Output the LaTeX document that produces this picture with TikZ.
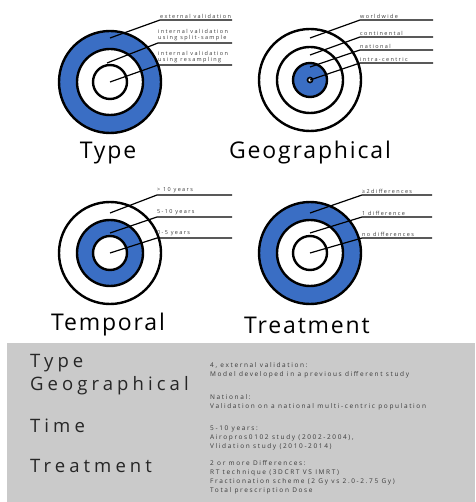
\documentclass[tikz,border=0pt]{standalone}
\usepackage{fontspec}
\usetikzlibrary{positioning,calc}
\newfontfamily\ttlfont[LetterSpace=8]{Open Sans}
\newfontfamily\keyfont[LetterSpace=22]{Open Sans}
\newfontfamily\smallfont[LetterSpace=25]{Open Sans}
\definecolor{ringblue}{HTML}{3A6EC4}
\definecolor{panelgray}{HTML}{CACACA}
\definecolor{inkgray}{HTML}{3A3A3A}

\begin{document}
\begin{tikzpicture}[x=1pt,y=-1pt,
  ring/.style={circle,draw=black,line width=2.4pt,inner sep=0pt,fill=white},
  blue ring/.style={ring,fill=ringblue},
  lbl/.style={anchor=south west,inner xsep=0pt,inner ysep=1.5pt,align=left,
    font=\fontsize{5.5}{6.5}\smallfont,text=inkgray},
  leader/.style={line width=1.2pt,black},
  ttl/.style={font=\fontsize{23}{27}\ttlfont},
  key/.style={anchor=base west,inner sep=0pt,font=\fontsize{18.5}{22}\keyfont,text=black!85},
  note/.style={anchor=base west,inner sep=0pt,align=left,
    font=\fontsize{6.5}{9}\smallfont,text=inkgray}]
\useasboundingbox (0,0) rectangle (475,502);

% Type
\node[blue ring,minimum size=102pt] (typeO) at (110,82) {};
\node[ring,minimum size=66pt] (typeM) at (110,82) {};
\node[ring,minimum size=34pt] (typeI) at (110,82) {};
\coordinate (typeP1) at (110,38);
\coordinate (typeP2) at (107,63);
\coordinate (typeP3) at (110,82);
\node[lbl] (typeL1) at (160,20) {external validation};
\node[lbl] (typeL2) at (158,43) {internal validation\\using split-sample};
\node[lbl] (typeL3) at (158,65) {internal validation\\using resampling};
\coordinate (typeU1) at (232,20);
\coordinate (typeU2) at (232,43);
\coordinate (typeU3) at (232,65);
\draw[leader] (typeP1) -- (typeL1.south west) -- (typeU1);
\draw[leader] (typeP2) -- (typeL2.south west) -- (typeU2);
\draw[leader] (typeP3) -- (typeL3.south west) -- (typeU3);
\node[ttl] (typeT) at (108,153) {Type};

% Geographical
\node[ring,minimum size=102pt] (geoO) at (310,80) {};
\node[ring,minimum size=66pt] (geoM) at (310,80) {};
\node[blue ring,minimum size=34pt] (geoI) at (310,80) {};
\node[ring,line width=1.6pt,minimum size=5pt] (geoC) at (310,80) {};
\coordinate (geoP1) at (310,38);
\coordinate (geoP2) at (310,55);
\coordinate (geoP3) at (310,67);
\coordinate (geoP4) at (310,80);
\node[lbl] (geoL1) at (360,20) {worldwide};
\node[lbl] (geoL2) at (360,37) {continental};
\node[lbl] (geoL3) at (360,50) {national};
\node[lbl] (geoL4) at (360,63) {intra-centric};
\coordinate (geoU1) at (433,20);
\coordinate (geoU2) at (433,37);
\coordinate (geoU3) at (433,50);
\coordinate (geoU4) at (433,63);
\draw[leader] (geoP1) -- (geoL1.south west) -- (geoU1);
\draw[leader] (geoP2) -- (geoL2.south west) -- (geoU2);
\draw[leader] (geoP3) -- (geoL3.south west) -- (geoU3);
\draw[leader] (geoP4) -- (geoL4.south west) -- (geoU4);
\node[ttl] (geoT) at (310,153) {Geographical};

% Temporal
\node[ring,minimum size=102pt] (tempO) at (110,253) {};
\node[blue ring,minimum size=66pt] (tempM) at (110,253) {};
\node[ring,minimum size=34pt] (tempI) at (110,253) {};
\coordinate (tempP1) at (110,213);
\coordinate (tempP2) at (110,233);
\coordinate (tempP3) at (110,253);
\node[lbl] (tempL1) at (157,195) {> 10 years};
\node[lbl] (tempL2) at (157,217) {5-10 years};
\node[lbl] (tempL3) at (157,238) {0-5 years};
\coordinate (tempU1) at (232,195);
\coordinate (tempU2) at (232,217);
\coordinate (tempU3) at (232,238);
\draw[leader] (tempP1) -- (tempL1.south west) -- (tempU1);
\draw[leader] (tempP2) -- (tempL2.south west) -- (tempU2);
\draw[leader] (tempP3) -- (tempL3.south west) -- (tempU3);
\node[ttl] (tempT) at (108,325) {Temporal};

% Treatment
\node[blue ring,minimum size=102pt] (treatO) at (310,253) {};
\node[ring,minimum size=66pt] (treatM) at (310,253) {};
\node[ring,minimum size=34pt] (treatI) at (310,253) {};
\coordinate (treatP1) at (310,213);
\coordinate (treatP2) at (310,233);
\coordinate (treatP3) at (310,253);
\node[lbl] (treatL1) at (362,195) {≥2differences};
\node[lbl] (treatL2) at (362,217) {1 difference};
\node[lbl] (treatL3) at (362,238) {no differences};
\coordinate (treatU1) at (432,195);
\coordinate (treatU2) at (432,217);
\coordinate (treatU3) at (432,238);
\draw[leader] (treatP1) -- (treatL1.south west) -- (treatU1);
\draw[leader] (treatP2) -- (treatL2.south west) -- (treatU2);
\draw[leader] (treatP3) -- (treatL3.south west) -- (treatU3);
\node[ttl] (treatT) at (307,325) {Treatment};

% summary panel
\fill[panelgray] (7,343) rectangle (475,502);
\node[key] (keyType) at (30,367) {Type};
\node[key] (keyGeo) at (30,390) {Geographical};
\node[key] (keyTime) at (30,432) {Time};
\node[key] (keyTreat) at (30,472) {Treatment};
% base anchor sits on the last line of each block
\node[note] (noteType) at (210,376) {4, external validation:\\Model developed in a previous different study};
\node[note] (noteGeo) at (210,408) {National:\\Validation on a national multi-centric population};
\node[note] (noteTime) at (210,448) {5-10 years:\\Airopros0102 study (2002-2004),\\Vlidation study (2010-2014)};
\node[note] (noteTreat) at (210,492) {2 or more Differences:\\RT technique (3DCRT VS IMRT)\\Fractionation scheme (2 Gy vs 2.0-2.75 Gy)\\Total prescription Dose};
\end{tikzpicture}
\end{document}
